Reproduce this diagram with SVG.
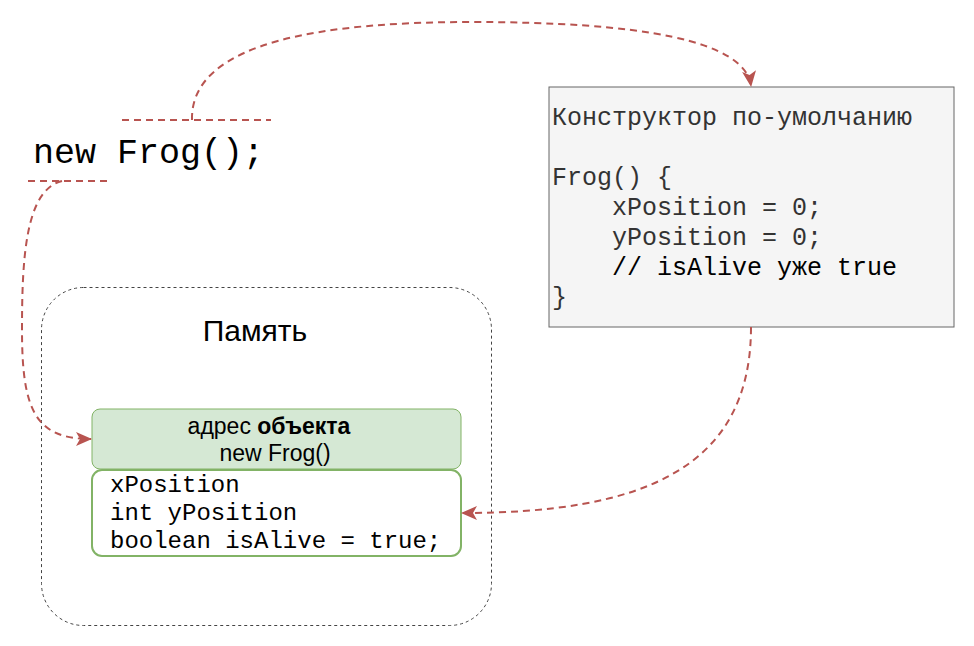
<svg xmlns="http://www.w3.org/2000/svg" width="974" height="646" viewBox="0 0 974 646">
<style>
.edge{fill:none;stroke:#b85450;stroke-width:2;stroke-dasharray:7 5}
.mono{font-family:"Liberation Mono","Courier New",monospace}
.sans{font-family:"Liberation Sans",Arial,sans-serif}
</style>
<defs>
<marker id="arr" viewBox="0 0 16 14" refX="15" refY="7" markerWidth="16" markerHeight="14" markerUnits="userSpaceOnUse" orient="auto">
<path d="M0,0 L16,7 L0,14 L4,7 Z" fill="#b85450"/>
</marker>
</defs>
<rect width="974" height="646" fill="#ffffff"/>

<g id="memory">
<rect x="41.5" y="287.5" width="450" height="338" rx="42" fill="none" stroke="#444" stroke-width="1" stroke-dasharray="3 3"/>
<text class="sans" x="255" y="341" font-size="30" text-anchor="middle" fill="#000">Память</text>
</g>

<g id="object-header">
<rect x="92" y="409" width="369" height="60" rx="8" fill="#d5e8d4" stroke="#82b366" stroke-width="1"/>
<text class="sans" x="269" y="434" font-size="23" text-anchor="middle" fill="#000">адрес <tspan font-weight="bold">объекта</tspan></text>
<text class="sans" x="275" y="461" font-size="23" text-anchor="middle" fill="#000">new Frog()</text>
</g>

<g id="object-body">
<rect x="92" y="470" width="369" height="86" rx="10" fill="#ffffff" stroke="#82b366" stroke-width="2"/>
<text class="mono" font-size="24" fill="#000">
<tspan x="110" y="492">xPosition</tspan>
<tspan x="110" y="520">int yPosition</tspan>
<tspan x="110" y="548">boolean isAlive = true;</tspan>
</text>
</g>

<g id="new-frog">
<text class="mono" x="33" y="163" font-size="35" fill="#000">new Frog();</text>
</g>

<g id="constructor">
<rect x="549" y="87" width="405" height="240" fill="#f5f5f5" stroke="#666666" stroke-width="1"/>
<text class="mono" font-size="25" fill="#333333">
<tspan x="552" y="125">Конструктор по-умолчанию</tspan>
<tspan x="552" y="185">Frog() {</tspan>
<tspan x="612" y="215">xPosition = 0;</tspan>
<tspan x="612" y="245">yPosition = 0;</tspan>
<tspan x="612" y="275" fill="#000">// isAlive уже true</tspan>
<tspan x="552" y="305">}</tspan>
</text>
</g>

<g id="connectors">
<line class="edge" x1="122" y1="120" x2="271" y2="120"/>
<line class="edge" x1="28" y1="181" x2="107" y2="181"/>
<path class="edge" d="M192,120 C190,40 330,22 470,22 C640,22 745,40 751,86" marker-end="url(#arr)"/>
<path class="edge" d="M62,181 C25,190 22,260 22,330 C22,410 35,439 91,439" marker-end="url(#arr)"/>
<path class="edge" d="M751,327 C751,470 640,513 462,513" marker-end="url(#arr)"/>
</g>
</svg>
